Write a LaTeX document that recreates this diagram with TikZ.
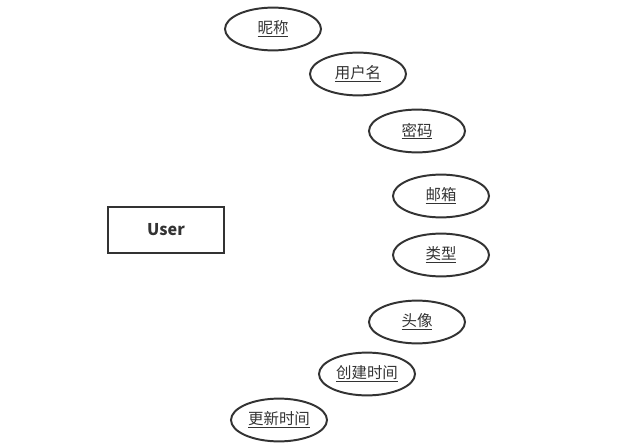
\documentclass[tikz,border=0pt]{standalone}
\usepackage{amsmath}
\usepackage{fontspec}
\setmainfont{Noto Sans CJK SC}
\usepackage{tikz}
\usetikzlibrary{shapes.geometric,positioning}
\definecolor{ink}{HTML}{333333}

\newcommand{\key}[1]{\underline{\smash[b]{#1}}}

\begin{document}
\begin{tikzpicture}

\tikzset{attr/.style={shape=ellipse,draw=ink,line width=1.4pt,text=ink,font=\fontsize{11}{13}\selectfont,minimum width=2.4cm,minimum height=1.07cm,inner sep=0pt},
entity/.style={shape=rectangle,draw=ink,line width=1.4pt,text=ink,font=\fontsize{11.5}{13}\selectfont\bfseries,minimum width=2.9cm,minimum height=1.15cm}}

\useasboundingbox (0,0) rectangle (15.725,-11.2);

% Entity
\node[entity] (user) at (4.15,-5.75) {User};

% Attributes
\node[attr] (nick) at (6.825,-0.725) {\key{昵称}};
\node[attr] (uname) at (8.95,-1.85) {\key{用户名}};
\node[attr] (pwd) at (10.425,-3.275) {\key{密码}};
\node[attr] (mail) at (11.025,-4.9) {\key{邮箱}};
\node[attr] (type) at (11.025,-6.375) {\key{类型}};
\node[attr] (avatar) at (10.425,-8.05) {\key{头像}};
\node[attr] (ctime) at (9.175,-9.35) {\key{创建时间}};
\node[attr] (utime) at (6.975,-10.5) {\key{更新时间}};

\end{tikzpicture}
\end{document}
